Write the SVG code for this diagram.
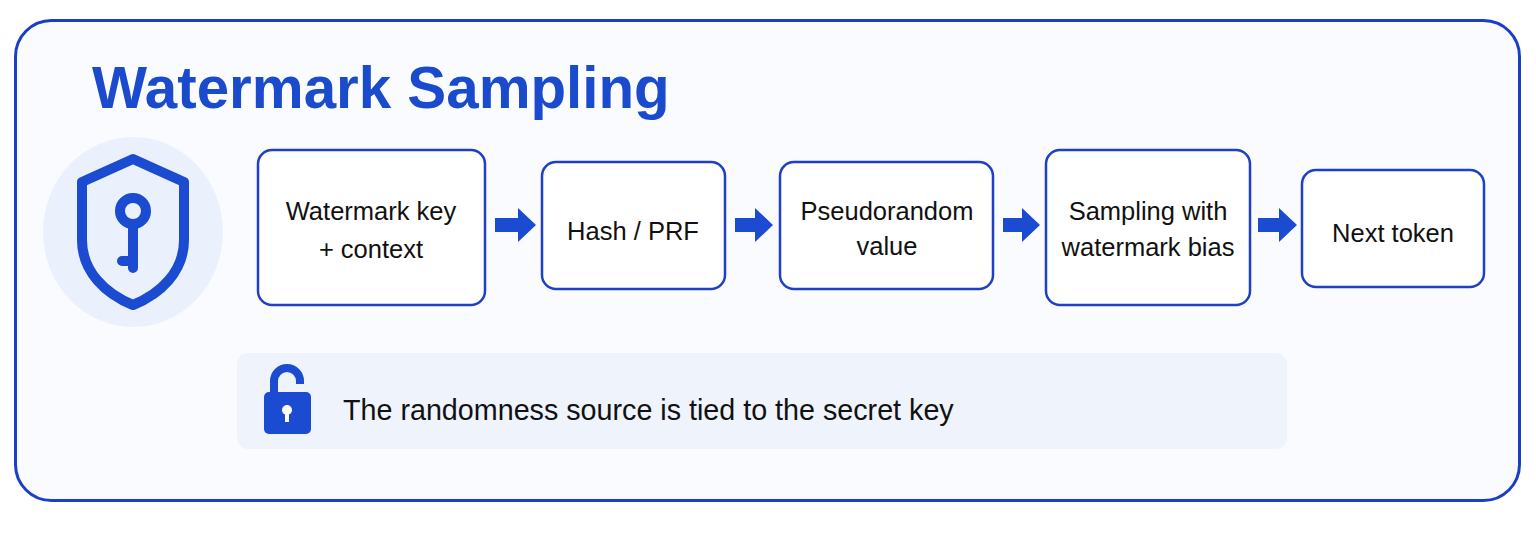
<svg xmlns="http://www.w3.org/2000/svg" width="1536" height="559" viewBox="0 0 1536 559">
<defs>
<style>
.box{fill:#ffffff;stroke:#1f3fc6;stroke-width:2.5}
.lbl{font-family:"Liberation Sans",Arial,sans-serif;font-size:25.5px;fill:#111111;text-anchor:middle}
.arr{fill:#1a4bd0}
.icon{fill:none;stroke:#1a4bd0;stroke-linecap:round;stroke-linejoin:round}
</style>
</defs>
<rect width="1536" height="559" fill="#ffffff"/>
<g id="frame">
<rect x="15.5" y="20.5" width="1504" height="480" rx="36" fill="#fafbfe" stroke="#1a3fc4" stroke-width="3"/>
<text x="92" y="108" font-family="Liberation Sans,Arial,sans-serif" font-weight="bold" font-size="58.3" fill="#1a4bcc">Watermark Sampling</text>
</g>
<g id="shield-icon">
<ellipse cx="133" cy="232" rx="90" ry="95" fill="#eaf1fc"/>
<path class="icon" stroke-width="10" d="M133 159 L184 182 L184 240 C184 272 160 294 133 305 C106 294 82 272 82 240 L82 182 Z" fill="#ffffff"/>
<circle class="icon" stroke-width="10" cx="133" cy="211" r="13"/>
<path class="icon" stroke-width="10" d="M133 226 L133 268 M122 261 L133 261"/>
</g>
<g id="connectors">
<path class="arr" d="M495 218 H518 V208 L536 225 L518 242 V232 H495 Z"/>
<path class="arr" d="M735 218 H755 V208 L773 225 L755 242 V232 H735 Z"/>
<path class="arr" d="M1003 218 H1022 V208 L1040 225 L1022 242 V232 H1003 Z"/>
<path class="arr" d="M1258 218 H1279 V208 L1297 225 L1279 242 V232 H1258 Z"/>
</g>
<g id="n1">
<rect class="box" x="258" y="150" width="227" height="155" rx="14"/>
<text class="lbl" x="371" y="220">Watermark key</text>
<text class="lbl" x="371" y="258">+ context</text>
</g>
<g id="n2">
<rect class="box" x="542" y="162" width="183" height="127" rx="14"/>
<text class="lbl" x="633" y="240">Hash / PRF</text>
</g>
<g id="n3">
<rect class="box" x="780" y="162" width="213" height="127" rx="14"/>
<text class="lbl" x="887" y="220">Pseudorandom</text>
<text class="lbl" x="887" y="255">value</text>
</g>
<g id="n4">
<rect class="box" x="1046" y="150" width="204" height="155" rx="14"/>
<text class="lbl" x="1148" y="220">Sampling with</text>
<text class="lbl" x="1148" y="256">watermark bias</text>
</g>
<g id="n5">
<rect class="box" x="1302" y="170" width="182" height="117" rx="14"/>
<text class="lbl" x="1393" y="242">Next token</text>
</g>
<g id="note">
<rect x="237" y="353" width="1050" height="96" rx="11" fill="#eef3fc"/>
<path d="M274 393 V381 A13 13 0 0 1 300 381 V384" fill="none" stroke="#1a4bd0" stroke-width="8"/>
<rect x="264" y="392" width="47" height="42" rx="5" fill="#1a4bd0"/>
<circle cx="287" cy="410" r="5" fill="#ffffff"/>
<rect x="285" y="410" width="4" height="12" fill="#ffffff"/>
<text x="343" y="420" font-family="Liberation Sans,Arial,sans-serif" font-size="28.7" fill="#111111">The randomness source is tied to the secret key</text>
</g>
</svg>
